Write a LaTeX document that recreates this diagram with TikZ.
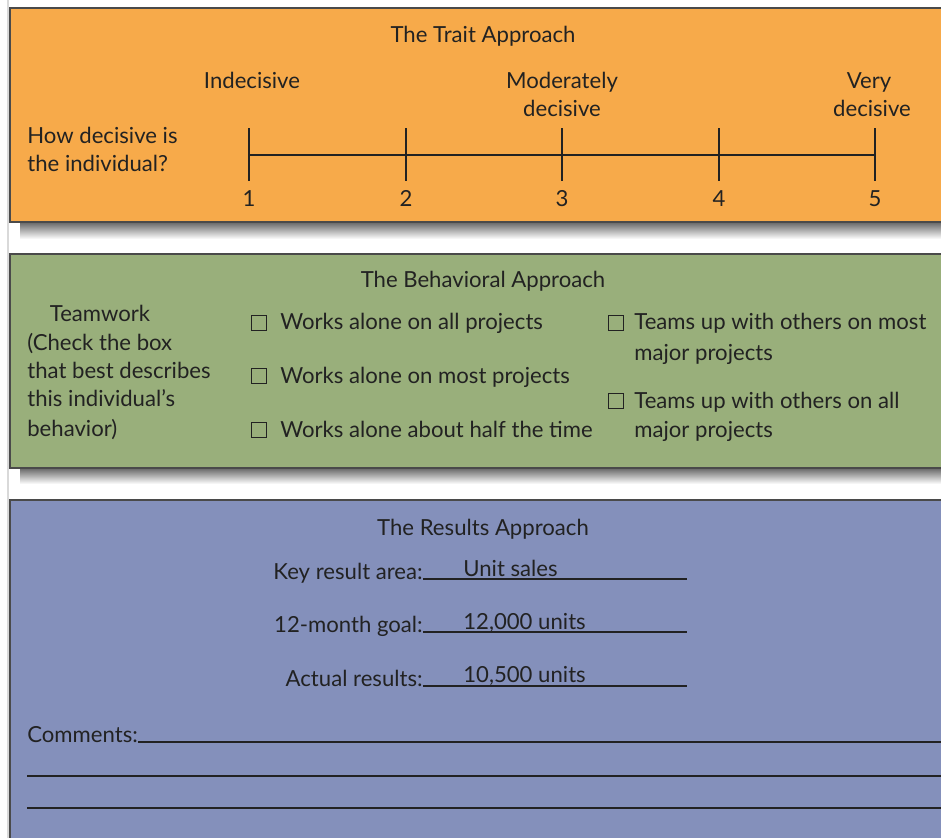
\documentclass[tikz,border=0pt]{standalone}
\usepackage{fontspec}
\setmainfont{Lato}
\usetikzlibrary{positioning}

\definecolor{traitorange}{HTML}{F7AA4A}
\definecolor{behavgreen}{HTML}{99AF7B}
\definecolor{resultblue}{HTML}{8490BB}
\definecolor{inkgray}{HTML}{222222}
\definecolor{edgegray}{HTML}{4A4A4A}

\tikzset{
  txt/.style={text=inkgray, inner sep=0pt, anchor=base, font=\fontsize{12.6}{15}\selectfont},
  lefttxt/.style={txt, anchor=base west},
  righttxt/.style={txt, anchor=base east},
  panel/.style={draw=edgegray, line width=1pt},
  panelshadow/.style={top color=black!60, bottom color=white, draw=none},
  checkbox/.style={draw=inkgray, line width=0.7pt, minimum size=0.29cm, inner sep=0pt},
  rule/.style={draw=inkgray, line width=0.8pt},
  tick/.style={draw=inkgray, line width=0.7pt}
}

\begin{document}
\begin{tikzpicture}[x=0.02cm, y=-0.02cm]
\useasboundingbox (0,0) rectangle (941,838);
\clip (0,0) rectangle (941,838);

% page edge
\draw[black!15, line width=1.2pt] (8,0) -- (8,838);

% panels
\shade[panelshadow] (20,222) rectangle (950,239);
\shade[panelshadow] (20,468) rectangle (950,484);
\fill[traitorange] (10,8) rectangle (950,222);
\draw[panel] (950,8) -- (10,8) -- (10,222) -- (950,222);
\fill[behavgreen] (10,254) rectangle (950,468);
\draw[panel] (950,254) -- (10,254) -- (10,468) -- (950,468);
\fill[resultblue] (10,500) rectangle (950,850);
\draw[panel] (950,500) -- (10,500) -- (10,850);

% trait approach
\node[txt] (traittitle) at (483,43) {The Trait Approach};
\node[txt] (indec) at (252,89) {Indecisive};
\node[txt] (moder) at (562,89) {Moderately};
\node[txt] (moderdec) at (562,117) {decisive};
\node[txt] (very) at (869,89) {Very};
\node[txt] (verydec) at (872,117) {decisive};
\node[lefttxt] (howdec) at (27,144) {How decisive is};
\node[lefttxt] (howind) at (27,172) {the individual?};

\coordinate (t1) at (249,155);
\coordinate (t2) at (406,155);
\coordinate (t3) at (562,155);
\coordinate (t4) at (719,155);
\coordinate (t5) at (875,155);
\draw[tick] (t1) -- (t5);
\draw[tick] ([yshift=0.54cm]t1) -- ([yshift=-0.52cm]t1);
\draw[tick] ([yshift=0.54cm]t2) -- ([yshift=-0.52cm]t2);
\draw[tick] ([yshift=0.54cm]t3) -- ([yshift=-0.52cm]t3);
\draw[tick] ([yshift=0.54cm]t4) -- ([yshift=-0.52cm]t4);
\draw[tick] ([yshift=0.54cm]t5) -- ([yshift=-0.52cm]t5);

\node[txt] (n1) at (249,207) {1};
\node[txt] (n2) at (406,207) {2};
\node[txt] (n3) at (562,207) {3};
\node[txt] (n4) at (719,207) {4};
\node[txt] (n5) at (875,207) {5};

% behavioral approach
\node[txt] (behavtitle) at (483,288) {The Behavioral Approach};
\node[txt] (teamwork) at (100,321) {Teamwork};
\node[lefttxt] (check1) at (27,350) {(Check the box};
\node[lefttxt] (check2) at (27,378) {that best describes};
\node[lefttxt] (check3) at (27,406) {this individual{\char"0027}s};
\node[lefttxt] (check4) at (27,436) {behavior)};

\node[checkbox] (cb1) at (259,323) {};
\node[lefttxt] (alone1) at (280,330) {Works alone on all projects};
\node[checkbox] (cb2) at (259,376) {};
\node[lefttxt] (alone2) at (280,383) {Works alone on most projects};
\node[checkbox] (cb3) at (259,430) {};
\node[lefttxt] (alone3) at (280,437) {Works alone about half the time};

\node[checkbox] (cb4) at (616,323) {};
\node[lefttxt] (team1) at (634,330) {Teams up with others on most};
\node[lefttxt] (team1b) at (634,360) {major projects};
\node[checkbox] (cb5) at (616,401) {};
\node[lefttxt] (team2) at (634,408) {Teams up with others on all};
\node[lefttxt] (team2b) at (634,438) {major projects};

% results approach
\node[txt] (resulttitle) at (483,535) {The Results Approach};
\node[righttxt] (keylbl) at (423,579) {Key result area:};
\node[lefttxt] (keyval) at (463,576) {Unit sales};
\coordinate (keyend) at (687,579);
\draw[rule] (keylbl.base east) -- (keyend);

\node[righttxt] (goallbl) at (423,632) {12-month goal:};
\node[lefttxt] (goalval) at (463,629) {12,000 units};
\coordinate (goalend) at (687,632);
\draw[rule] (goallbl.base east) -- (goalend);

\node[righttxt] (actlbl) at (423,686) {Actual results:};
\node[lefttxt] (actval) at (463,682) {10,500 units};
\coordinate (actend) at (687,686);
\draw[rule] (actlbl.base east) -- (actend);

\node[lefttxt] (comments) at (27,742) {Comments:};
\coordinate (com1end) at (941,742);
\draw[rule] (comments.base east) -- (com1end);
\coordinate (com2a) at (27,776);
\coordinate (com2b) at (941,776);
\draw[rule] (com2a) -- (com2b);
\coordinate (com3a) at (27,808);
\coordinate (com3b) at (941,808);
\draw[rule] (com3a) -- (com3b);
\end{tikzpicture}
\end{document}
